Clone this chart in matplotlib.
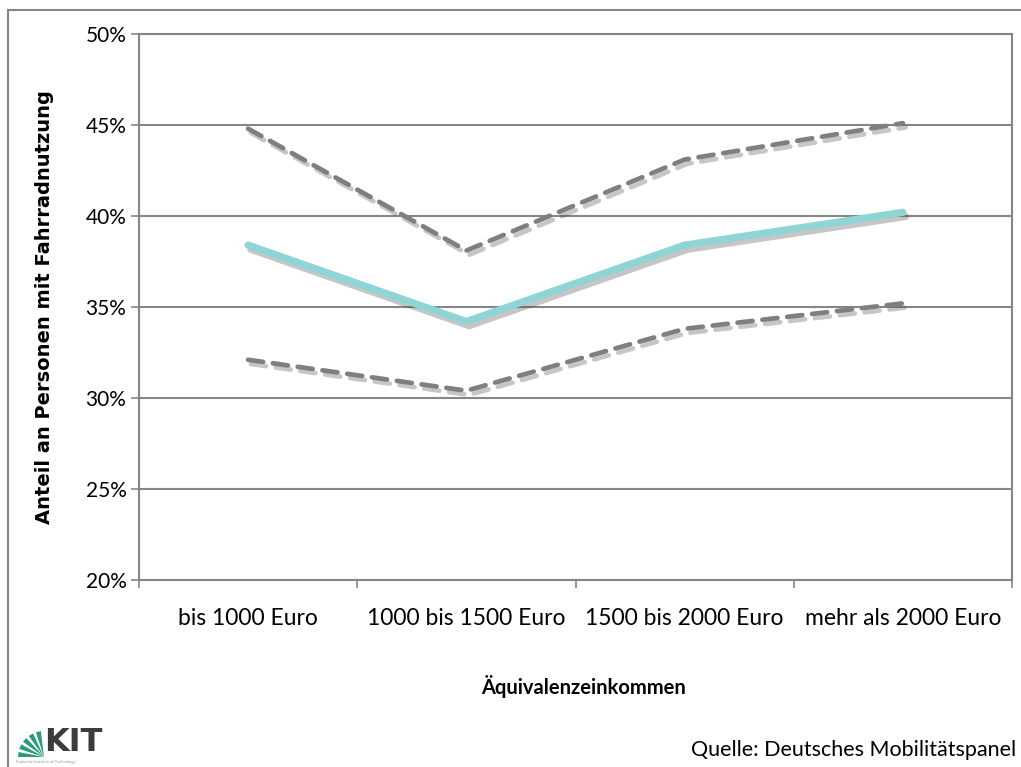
import math
import matplotlib
matplotlib.use('Agg')
import matplotlib.pyplot as plt
import matplotlib.patheffects as pe
from matplotlib.patches import Polygon
from matplotlib.lines import Line2D
from matplotlib.ticker import FixedLocator, FuncFormatter

plt.rcParams['font.family'] = ['Lato', 'DejaVu Sans']

kategorien = ['bis 1000 Euro', '1000 bis 1500 Euro', '1500 bis 2000 Euro', 'mehr als 2000 Euro']
anteil = [38.4, 34.2, 38.4, 40.2]
obere_grenze = [44.8, 38.1, 43.1, 45.1]
untere_grenze = [32.1, 30.4, 33.8, 35.2]
y_ticks = [20, 25, 30, 35, 40, 45, 50]

grau = '#868686'

fig = plt.figure(figsize=(10.21, 7.67), dpi=100)
ax = fig.add_axes([139 / 1021, 1 - 580 / 767, (1012 - 139) / 1021, (580 - 34) / 767])

# Rahmen um die ganze Grafik (nur links und oben sichtbar)
fig.add_artist(Line2D([8 / 1021, 8 / 1021], [0, 1 - 10 / 767], color=grau, lw=1.5, transform=fig.transFigure))
fig.add_artist(Line2D([8 / 1021, 1], [1 - 10 / 767, 1 - 10 / 767], color=grau, lw=1.5, transform=fig.transFigure))

x = list(range(len(kategorien)))
schatten = [pe.SimpleLineShadow(offset=(2, -3), shadow_color='#444444', alpha=0.3), pe.Normal()]

ax.plot(x, anteil, color='#8fd5d5', lw=5.2, solid_capstyle='round', solid_joinstyle='miter',
        path_effects=schatten, zorder=4)
for werte in (obere_grenze, untere_grenze):
    ax.plot(x, werte, color='#7f7f7f', lw=3.4, dashes=(3.2, 2.1), dash_capstyle='round',
            path_effects=schatten, zorder=3)

ax.set_xlim(-0.5, 3.5)
ax.set_ylim(20, 50)
ax.yaxis.set_major_locator(FixedLocator(y_ticks))
ax.yaxis.set_major_formatter(FuncFormatter(lambda v, p: '%d%%' % v))
ax.grid(axis='y', color=grau, lw=1.5)
ax.set_axisbelow(True)

ax.xaxis.set_major_locator(FixedLocator([-0.5, 0.5, 1.5, 2.5, 3.5]))
ax.xaxis.set_major_formatter(FuncFormatter(lambda v, p: ''))
ax.xaxis.set_minor_locator(FixedLocator(x))
ax.set_xticklabels(kategorien, minor=True)
ax.tick_params(axis='x', which='minor', length=0, pad=20, labelsize=16.5)
ax.tick_params(axis='x', which='major', length=6, width=1.2, color=grau, direction='out')
ax.tick_params(axis='y', length=6, width=1.2, color=grau, pad=3, labelsize=15)

for s in ax.spines.values():
    s.set_color(grau)
    s.set_linewidth(1.5)

ax.set_ylabel('Anteil an Personen mit Fahrradnutzung', fontsize=14, fontweight='bold',
              family=['DejaVu Sans'])
ax.yaxis.set_label_coords(-0.097, 0.5)
fig.text(584 / 1021, 1 - 687 / 767, 'Äquivalenzeinkommen', fontsize=14.5, fontweight='bold',
         ha='center', va='center')
fig.text(1016 / 1021, 1 - 750 / 767, 'Quelle: Deutsches Mobilitätspanel', fontsize=15.5,
         ha='right', va='center')

# KIT-Logo (vereinfacht)
logo = fig.add_axes([14 / 1021, 1 - 765 / 767, 82 / 1021, 36 / 767])
logo.set_xlim(0, 82)
logo.set_ylim(0, 36)
logo.axis('off')
gruen = '#2a9a7d'
for k in range(5):
    w1 = math.radians(180 - k * 18)
    w2 = math.radians(180 - k * 18 - 11)
    r = 26
    logo.add_patch(Polygon([(30, 8), (30 + r * math.cos(w1), 8 + r * math.sin(w1)),
                            (30 + r * math.cos(w2), 8 + r * math.sin(w2))], closed=True, color=gruen, lw=0))
logo.text(30, 7, 'KIT', fontsize=23, fontweight='bold', color='#3c3c3c', ha='left', va='bottom',
          family=['Liberation Sans Narrow', 'DejaVu Sans'])
logo.text(2, 1.5, 'Karlsruhe Institute of Technology', fontsize=3, color='#999999', ha='left', va='bottom')

fig.savefig('out.png', dpi=100)
